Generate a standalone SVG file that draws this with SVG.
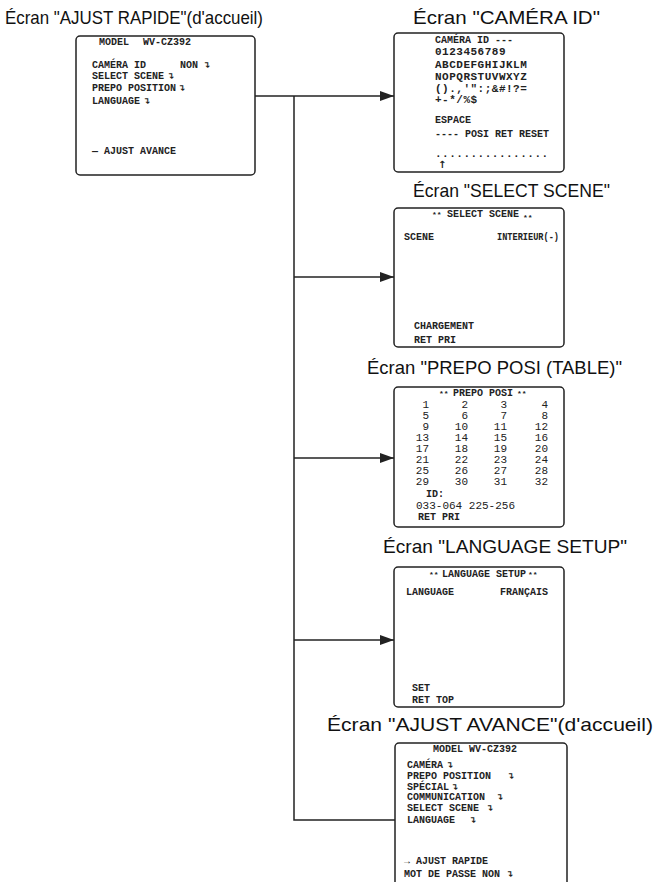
<svg xmlns="http://www.w3.org/2000/svg" width="657" height="882" viewBox="0 0 657 882">
<style>
.bg{fill:#fff}
.box{fill:#fff;stroke:#222;stroke-width:1.5}
.title{font-family:"Liberation Sans",Arial,sans-serif;font-size:19px;fill:#111}
.t{font-family:"Liberation Mono","Courier New",monospace;font-size:10px;font-weight:bold;fill:#222}
.g{font-family:"Liberation Mono","Courier New",monospace;font-size:11px;font-weight:bold;fill:#222;letter-spacing:0.5px}
.n{font-family:"Liberation Mono","Courier New",monospace;font-size:11px;fill:#222;text-anchor:end}
.s{font-family:"Liberation Mono","Courier New",monospace;font-size:8px;font-weight:bold;fill:#222}
.ret{font-family:"DejaVu Sans",sans-serif;font-size:9px;font-weight:bold;fill:#222}
.ln{fill:none;stroke:#222;stroke-width:1.5}
</style>
<defs>
<marker id="ah" markerUnits="userSpaceOnUse" markerWidth="15" markerHeight="11" refX="14" refY="5" orient="auto">
<path d="M0,0 L14,5 L0,10 z" fill="#222"/>
</marker>
</defs>
<rect class="bg" x="0" y="0" width="657" height="882"/>

<g id="connectors">
<line class="ln" x1="255" y1="96" x2="394" y2="96" marker-end="url(#ah)"/>
<polyline class="ln" points="294,96 294,820 395,820"/>
<line class="ln" x1="294" y1="277" x2="394" y2="277" marker-end="url(#ah)"/>
<line class="ln" x1="294" y1="458" x2="394" y2="458" marker-end="url(#ah)"/>
<line class="ln" x1="294" y1="640" x2="394" y2="640" marker-end="url(#ah)"/>
</g>

<g id="ajust-rapide">
<text class="title" x="5" y="24" textLength="258" lengthAdjust="spacingAndGlyphs">Écran "AJUST RAPIDE"(d'accueil)</text>
<rect class="box" x="76" y="36" width="179" height="139" rx="4"/>
<text class="t" x="99" y="45">MODEL</text>
<text class="t" x="143" y="45">WV-CZ392</text>
<text class="t" x="92" y="68">CAMÉRA ID</text>
<text class="t" x="180" y="68">NON</text>
<text class="ret" x="203" y="68">↴</text>
<text class="t" x="92" y="79">SELECT SCENE</text>
<text class="ret" x="167" y="79">↴</text>
<text class="t" x="92" y="91">PREPO POSITION</text>
<text class="ret" x="178" y="91">↴</text>
<text class="t" x="92" y="104">LANGUAGE</text>
<text class="ret" x="143" y="104">↴</text>
<text class="t" x="92" y="154">— AJUST AVANCE</text>
</g>

<g id="camera-id">
<text class="title" x="413" y="24" textLength="187" lengthAdjust="spacingAndGlyphs">Écran "CAMÉRA ID"</text>
<rect class="box" x="394" y="33" width="170" height="139" rx="4"/>
<text class="t" x="435" y="43">CAMÉRA ID ---</text>
<text class="g" x="435" y="55">0123456789</text>
<text class="g" x="435" y="68">ABCDEFGHIJKLM</text>
<text class="g" x="435" y="80">NOPQRSTUVWXYZ</text>
<text class="g" x="435" y="92">().,'":;&amp;#!?=</text>
<text class="g" x="435" y="103">+-*/%$</text>
<text class="t" x="435" y="123">ESPACE</text>
<text class="t" x="435" y="137">---- POSI RET RESET</text>
<text class="g" x="435" y="157">................</text>
<text class="ret" x="438" y="168" style="font-size:10px">↑</text>
</g>

<g id="select-scene">
<text class="title" x="413" y="197" textLength="197" lengthAdjust="spacingAndGlyphs">Écran "SELECT SCENE"</text>
<rect class="box" x="394" y="208" width="170" height="139" rx="4"/>
<text class="s" x="432" y="217">**</text>
<text class="t" x="447" y="217">SELECT SCENE</text>
<text class="s" x="523" y="220">**</text>
<text class="t" x="404" y="240">SCENE</text>
<text class="t" x="497" y="240" textLength="62" lengthAdjust="spacingAndGlyphs">INTERIEUR(-)</text>
<text class="t" x="414" y="329">CHARGEMENT</text>
<text class="t" x="414" y="343">RET PRI</text>
</g>

<g id="prepo-posi">
<text class="title" x="367" y="374" textLength="255" lengthAdjust="spacingAndGlyphs">Écran "PREPO POSI (TABLE)"</text>
<rect class="box" x="394" y="387" width="170" height="140" rx="4"/>
<text class="s" x="439" y="396">**</text>
<text class="t" x="453" y="396">PREPO POSI</text>
<text class="s" x="517" y="396">**</text>
<text class="n" x="429" y="408">1</text><text class="n" x="468" y="408">2</text><text class="n" x="507" y="408">3</text><text class="n" x="548" y="408">4</text>
<text class="n" x="429" y="419">5</text><text class="n" x="468" y="419">6</text><text class="n" x="507" y="419">7</text><text class="n" x="548" y="419">8</text>
<text class="n" x="429" y="430">9</text><text class="n" x="468" y="430">10</text><text class="n" x="507" y="430">11</text><text class="n" x="548" y="430">12</text>
<text class="n" x="429" y="441">13</text><text class="n" x="468" y="441">14</text><text class="n" x="507" y="441">15</text><text class="n" x="548" y="441">16</text>
<text class="n" x="429" y="452">17</text><text class="n" x="468" y="452">18</text><text class="n" x="507" y="452">19</text><text class="n" x="548" y="452">20</text>
<text class="n" x="429" y="463">21</text><text class="n" x="468" y="463">22</text><text class="n" x="507" y="463">23</text><text class="n" x="548" y="463">24</text>
<text class="n" x="429" y="474">25</text><text class="n" x="468" y="474">26</text><text class="n" x="507" y="474">27</text><text class="n" x="548" y="474">28</text>
<text class="n" x="429" y="485">29</text><text class="n" x="468" y="485">30</text><text class="n" x="507" y="485">31</text><text class="n" x="548" y="485">32</text>
<text class="t" x="426" y="497">ID:</text>
<text class="g" x="416" y="509" style="font-weight:normal;letter-spacing:0">033-064 225-256</text>
<text class="t" x="418" y="520">RET PRI</text>
</g>

<g id="language-setup">
<text class="title" x="383" y="553" textLength="244" lengthAdjust="spacingAndGlyphs">Écran "LANGUAGE SETUP"</text>
<rect class="box" x="394" y="567" width="170" height="140" rx="4"/>
<text class="s" x="429" y="577">**</text>
<text class="t" x="442" y="577">LANGUAGE SETUP</text>
<text class="s" x="528" y="577">**</text>
<text class="t" x="406" y="595">LANGUAGE</text>
<text class="t" x="500" y="595">FRANÇAIS</text>
<text class="t" x="412" y="691">SET</text>
<text class="t" x="412" y="703">RET TOP</text>
</g>

<g id="ajust-avance">
<text class="title" x="327" y="731" textLength="326" lengthAdjust="spacingAndGlyphs">Écran "AJUST AVANCE"(d'accueil)</text>
<rect class="box" x="395" y="743" width="172" height="150" rx="4"/>
<text class="t" x="433" y="752">MODEL WV-CZ392</text>
<text class="t" x="407" y="768">CAMÉRA</text>
<text class="ret" x="446" y="768">↴</text>
<text class="t" x="407" y="779">PREPO POSITION</text>
<text class="ret" x="507" y="779">↴</text>
<text class="t" x="407" y="790">SPÉCIAL</text>
<text class="ret" x="451" y="790">↴</text>
<text class="t" x="407" y="800">COMMUNICATION</text>
<text class="ret" x="496" y="800">↴</text>
<text class="t" x="407" y="811">SELECT SCENE</text>
<text class="ret" x="486" y="811">↴</text>
<text class="t" x="407" y="823">LANGUAGE</text>
<text class="ret" x="469" y="823">↴</text>
<text class="t" x="404" y="864">→ AJUST RAPIDE</text>
<text class="t" x="404" y="877">MOT DE PASSE NON</text>
<text class="ret" x="506" y="877">↴</text>
</g>
</svg>
